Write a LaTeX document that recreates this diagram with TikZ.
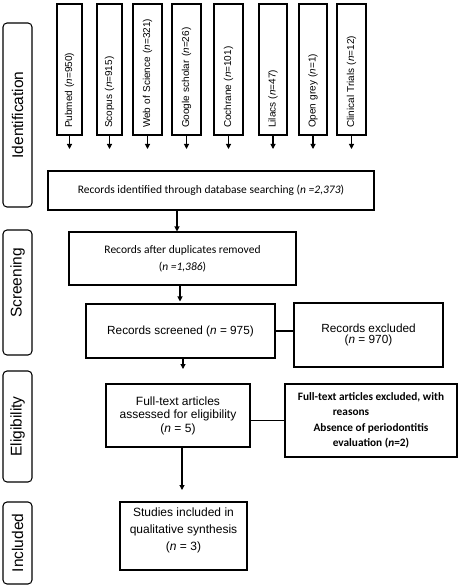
\documentclass[tikz,border=0pt]{standalone}
\usepackage{fontspec}
\setmainfont{Liberation Sans}
\newfontfamily\calfont{Carlito}
\usetikzlibrary{arrows.meta}
\begin{document}
\begin{tikzpicture}[x=1pt,y=1pt,
  box/.style={draw, line width=1.05pt, inner sep=0pt, align=center},
  stagebox/.style={draw, line width=1.05pt, rounded corners=4pt, rotate=90, minimum height=29pt, inner sep=0pt},
  stagetext/.style={rotate=90, inner sep=0pt, font=\fontsize{15.5}{18}\selectfont},
  dbbox/.style={draw, line width=1.05pt, rotate=90, minimum height=#1, text width=117pt, inner xsep=7pt, inner ysep=0pt, align=left, font=\fontsize{10}{12}\selectfont},
  arr/.style={line width=1.05pt, -{Triangle[length=5pt,width=5pt]}},
  link/.style={line width=1.05pt}]
\useasboundingbox (0,0) rectangle (460,-588);

% stage boxes
\node[stagebox, minimum width=184pt] (sid) at (17.5,-115) {};
\node[stagetext] (tid) at (sid.center) {Identification};
\node[stagebox, minimum width=125pt] (ssc) at (17.5,-292.5) {};
\node[stagetext] (tsc) at (17.5,-283) {Screening};
\node[stagebox, minimum width=111pt] (sel) at (17.5,-426.5) {};
\node[stagetext] (tel) at (sel.center) {Eligibility};
\node[stagebox, minimum width=82pt] (sin) at (17.5,-543) {};
\node[stagetext] (tin) at (sin.center) {Included};

% database boxes
\coordinate (dbend) at (0,-149);
\node[dbbox=25pt] (pub) at (69.5,-69.5) {Pubmed (\textit{n}=950)};
\node[dbbox=25pt] (sco) at (109.5,-69.5) {Scopus (\textit{n}=915)};
\node[dbbox=29pt] (wos) at (147.5,-69.5) {Web of Science (\textit{n}=321)};
\node[dbbox=29pt] (goo) at (186.5,-69.5) {Google scholar (\textit{n}=26)};
\node[dbbox=29pt] (coc) at (228.5,-69.5) {Cochrane (\textit{n}=101)};
\node[dbbox=28pt] (lil) at (273,-69.5) {Lilacs (\textit{n}=47)};
\node[dbbox=28pt] (ogr) at (313,-69.5) {Open grey (\textit{n}=1)};
\node[dbbox=29pt] (cli) at (351.5,-69.5) {Clinical Trials (\textit{n}=12)};
\foreach \n in {pub,sco,wos,goo,coc,lil,ogr,cli}
  \draw[arr] (\n.west) -- (\n.west |- dbend);

% main flow
\node[box, minimum width=326pt, minimum height=39pt, font=\calfont\fontsize{11.5}{14}\selectfont] (rec) at (211,-190.5)
  {Records identified through database searching (\textit{n =2,373})};
\node[box, minimum width=227pt, minimum height=53pt, font=\calfont\fontsize{11.5}{17}\selectfont] (dup) at (182.5,-258.5)
  {Records after duplicates removed\\(\textit{n =1,386})};
\node[box, minimum width=189pt, minimum height=54pt, font=\fontsize{11.8}{14}\selectfont] (scr) at (180.5,-331)
  {Records screened (\textit{n} = 975)};
\node[box, minimum width=149pt, minimum height=64pt, font=\fontsize{11.8}{11}\selectfont] (exc) at (368.5,-335)
  {Records excluded\\(\textit{n} = 970)};
\node[box, minimum width=144pt, minimum height=63pt, font=\fontsize{12}{13.5}\selectfont] (ft) at (178,-415.5)
  {Full-text articles\\assessed for eligibility\\(\textit{n} = 5)};
\node[box, minimum width=172pt, minimum height=73pt, font=\calfont\bfseries\fontsize{11.3}{15.5}\selectfont] (ftx) at (371,-420.5)
  {Full-text articles excluded, with\\\hspace*{-40pt}reasons\\Absence of periodontitis\\evaluation (\textit{n}=2)};
\node[box, minimum width=127pt, minimum height=68pt, font=\fontsize{12}{17}\selectfont] (inc) at (183.5,-536)
  {Studies included in\\qualitative synthesis\\(\textit{n} = 3)\\[-4pt]};

\coordinate (c2) at (183,-369);
\coordinate (c3) at (182,-490);
\draw[arr] ([xshift=-5.5pt]dup.north |- rec.south) -- ([xshift=-5.5pt]dup.north);
\draw[arr, shorten >=2pt] ([xshift=-2.5pt]dup.south) -- ([xshift=-2.5pt]dup.south |- scr.north);
\draw[arr] (c2 |- scr.south) -- (c2);
\draw[arr] (c3 |- ft.south) -- (c3);
\draw[link] (scr.east) -- (exc.west |- scr.east);
\draw[link] ([yshift=-5pt]ft.east) -- ([yshift=-5pt]ftx.west |- ft.east);
\end{tikzpicture}
\end{document}
